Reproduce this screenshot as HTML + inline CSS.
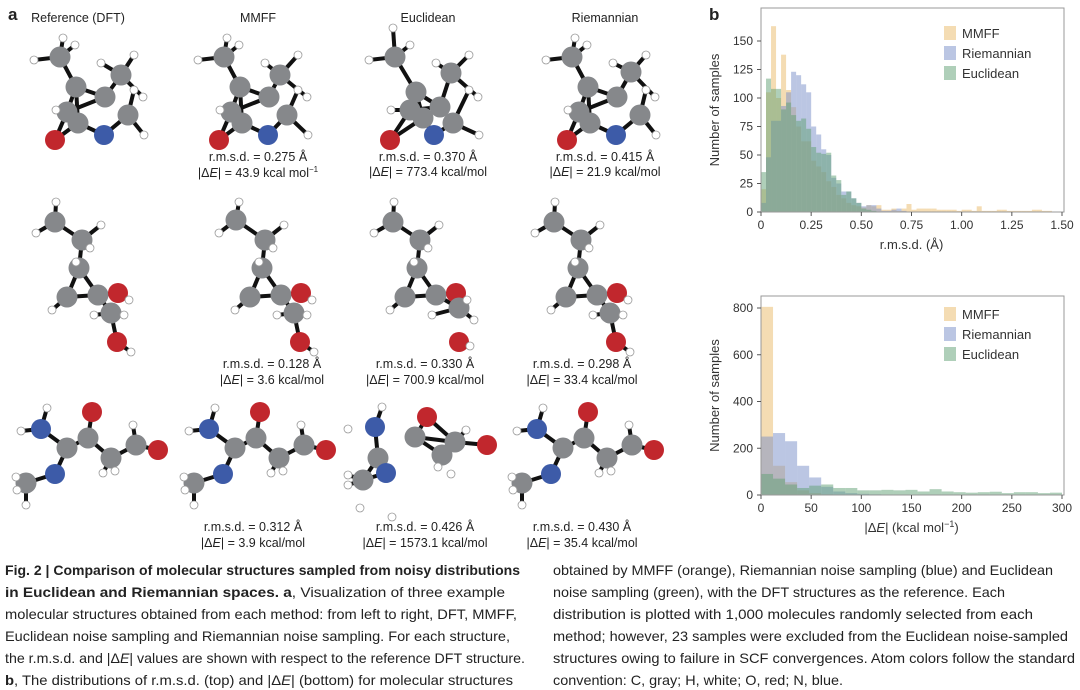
<!DOCTYPE html>
<html><head><meta charset="utf-8"><style>
body{margin:0;background:#fff;}
#root{position:relative;width:1080px;height:690px;overflow:hidden;font-family:"Liberation Sans",sans-serif;color:#222;}
.t{position:absolute;font-size:12.5px;white-space:nowrap;transform:translateX(-50%);}
.b{position:absolute;font-weight:bold;font-size:17px;}
</style></head><body>
<div id="root">
<span class="b" style="left:8px;top:5px">a</span>
<span class="b" style="left:709px;top:5px">b</span>
<span class="t" style="left:78px;top:11px">Reference (DFT)</span>
<span class="t" style="left:258px;top:11px">MMFF</span>
<span class="t" style="left:428px;top:11px">Euclidean</span>
<span class="t" style="left:605px;top:11px">Riemannian</span>

<span class="t" style="left:258px;top:150px">r.m.s.d. = 0.275 Å</span>
<span class="t" style="left:258px;top:165px">|Δ<i>E</i>| = 43.9 kcal mol<sup style="font-size:8px">−1</sup></span>
<span class="t" style="left:428px;top:150px">r.m.s.d. = 0.370 Å</span>
<span class="t" style="left:428px;top:165px">|Δ<i>E</i>| = 773.4 kcal/mol</span>
<span class="t" style="left:605px;top:150px">r.m.s.d. = 0.415 Å</span>
<span class="t" style="left:605px;top:165px">|Δ<i>E</i>| = 21.9 kcal/mol</span>

<span class="t" style="left:272px;top:357px">r.m.s.d. = 0.128 Å</span>
<span class="t" style="left:272px;top:373px">|Δ<i>E</i>| = 3.6 kcal/mol</span>
<span class="t" style="left:425px;top:357px">r.m.s.d. = 0.330 Å</span>
<span class="t" style="left:425px;top:373px">|Δ<i>E</i>| = 700.9 kcal/mol</span>
<span class="t" style="left:582px;top:357px">r.m.s.d. = 0.298 Å</span>
<span class="t" style="left:582px;top:373px">|Δ<i>E</i>| = 33.4 kcal/mol</span>

<span class="t" style="left:253px;top:520px">r.m.s.d. = 0.312 Å</span>
<span class="t" style="left:253px;top:536px">|Δ<i>E</i>| = 3.9 kcal/mol</span>
<span class="t" style="left:425px;top:520px">r.m.s.d. = 0.426 Å</span>
<span class="t" style="left:425px;top:536px">|Δ<i>E</i>| = 1573.1 kcal/mol</span>
<span class="t" style="left:582px;top:520px">r.m.s.d. = 0.430 Å</span>
<span class="t" style="left:582px;top:536px">|Δ<i>E</i>| = 35.4 kcal/mol</span>

<svg id="mol" width="700" height="560" style="position:absolute;left:0;top:0"></svg>
<svg id="hist" width="380" height="550" style="position:absolute;left:700px;top:0"></svg>

<svg width="1080" height="135" style="position:absolute;left:0;top:555px" font-family="Liberation Sans, sans-serif" font-size="14" fill="#222">
<text x="5" y="20" textLength="515" lengthAdjust="spacingAndGlyphs"><tspan font-weight="bold">Fig. 2 | Comparison of molecular structures sampled from noisy distributions</tspan></text>
<text x="5" y="42" textLength="500" lengthAdjust="spacingAndGlyphs"><tspan font-weight="bold">in Euclidean and Riemannian spaces. a</tspan>, Visualization of three example</text>
<text x="5" y="64" textLength="512" lengthAdjust="spacingAndGlyphs">molecular structures obtained from each method: from left to right, DFT, MMFF,</text>
<text x="5" y="86" textLength="505" lengthAdjust="spacingAndGlyphs">Euclidean noise sampling and Riemannian noise sampling. For each structure,</text>
<text x="5" y="108" textLength="520" lengthAdjust="spacingAndGlyphs">the r.m.s.d. and |Δ<tspan font-style="italic">E</tspan>| values are shown with respect to the reference DFT structure.</text>
<text x="5" y="130" textLength="508" lengthAdjust="spacingAndGlyphs"><tspan font-weight="bold">b</tspan>, The distributions of r.m.s.d. (top) and |Δ<tspan font-style="italic">E</tspan>| (bottom) for molecular structures</text>
<text x="553" y="20" textLength="500" lengthAdjust="spacingAndGlyphs">obtained by MMFF (orange), Riemannian noise sampling (blue) and Euclidean</text>
<text x="553" y="42" textLength="452" lengthAdjust="spacingAndGlyphs">noise sampling (green), with the DFT structures as the reference. Each</text>
<text x="553" y="64" textLength="480" lengthAdjust="spacingAndGlyphs">distribution is plotted with 1,000 molecules randomly selected from each</text>
<text x="553" y="86" textLength="515" lengthAdjust="spacingAndGlyphs">method; however, 23 samples were excluded from the Euclidean noise-sampled</text>
<text x="553" y="108" textLength="522" lengthAdjust="spacingAndGlyphs">structures owing to failure in SCF convergences. Atom colors follow the standard</text>
<text x="553" y="130" textLength="290" lengthAdjust="spacingAndGlyphs">convention: C, gray; H, white; O, red; N, blue.</text>
</svg>
</div>
<script>
// ---------- histogram data ----------
const rmsdBinWidth = 0.025;
const rmsdMMFF = [20,105,163,100,138,107,92,75,62,62,45,40,35,27,22,15,12,8,6,5,4,6,5,6,2,2,3,1,3,7,2,3,3,3,3,2,2,2,2,1,2,2,1,5,1,1,1,2,2,1,1,1,1,1,2,2,1,1,0,0];
const rmsdRiem = [8,48,80,80,93,105,123,120,112,105,75,68,55,50,30,25,18,18,12,8,5,6,6,3,1,1,2,3,1,0];
const rmsdEucl = [35,117,108,108,90,96,85,80,82,73,57,52,51,52,32,28,15,18,12,8,3,2,1,0];
const rmsdXTicks = [0,0.25,0.5,0.75,1.0,1.25,1.5];
const rmsdXTickLabels = ["0","0.25","0.50","0.75","1.00","1.25","1.50"];
const rmsdYTicks = [0,25,50,75,100,125,150];

const deBinWidth = 12;
const deMMFF = [805,125,55,20,8,3,2,1];
const deRiem = [250,265,230,125,75,35,15,8,5,3,2,1];
const deEucl = [90,70,45,30,40,45,30,30,20,20,22,20,22,15,25,15,12,10,12,14,8,12,12,8,10];
const deXTicks = [0,50,100,150,200,250,300];
const deYTicks = [0,200,400,600,800];

const seriesNames = ["MMFF","Riemannian","Euclidean"];
const seriesColors = ["rgba(236,196,128,0.6)","rgba(120,142,200,0.5)","rgba(96,160,116,0.5)"];

const NS="http://www.w3.org/2000/svg";
const hist=document.getElementById('hist');
function mk(tag,attrs,parent){const e=document.createElementNS(NS,tag);for(const k in attrs)e.setAttribute(k,attrs[k]);(parent||hist).appendChild(e);return e;}

function drawHist(cfg){
  const sx=v=>cfg.px0+(v-cfg.xmin)/(cfg.xmax-cfg.xmin)*(cfg.px1-cfg.px0);
  const sy=v=>cfg.py0-(v/cfg.ymax)*(cfg.py0-cfg.py1);
  const g=mk('g',{});
  
  
  [cfg.s0,cfg.s1,cfg.s2].forEach((arr,si)=>{
    arr.forEach((v,i)=>{
      if(v<=0)return;
      const r=mk('rect',{x:sx(i*cfg.bw),y:sy(v),width:sx((i+1)*cfg.bw)-sx(i*cfg.bw),height:cfg.py0-sy(v),fill:seriesColors[si]},g);
      
      
    });
  });
  const fr=mk('rect',{x:cfg.px0,y:cfg.ftop,width:cfg.px1+2-cfg.px0,height:cfg.py0-cfg.ftop,fill:'none',stroke:'#999','stroke-width':1});
  
  
  cfg.xt.forEach((v,i)=>{
    mk('line',{x1:sx(v),x2:sx(v),y1:cfg.py0,y2:cfg.py0+4,stroke:'#555'});
    const t=mk('text',{x:sx(v),y:cfg.py0+17,'text-anchor':'middle','font-size':12,fill:'#333','font-family':'Liberation Sans, sans-serif'});
    t.textContent=cfg.xl[i];
    
    
  });
  cfg.yt.forEach(v=>{
    mk('line',{x1:cfg.px0-4,x2:cfg.px0,y1:sy(v),y2:sy(v),stroke:'#555'});
    const t=mk('text',{x:cfg.px0-8,y:sy(v)+4,'text-anchor':'end','font-size':12,fill:'#333','font-family':'Liberation Sans, sans-serif'});
    t.textContent=String(v);
    
    
  });
  const yl=mk('text',{x:0,y:0,transform:`translate(${cfg.ylx},${(cfg.ftop+cfg.py0)/2}) rotate(-90)`,'text-anchor':'middle','font-size':13,fill:'#333','font-family':'Liberation Sans, sans-serif'});
  yl.textContent='Number of samples';
  
  
  const xl=mk('text',{x:(cfg.px0+cfg.px1)/2,y:cfg.py0+37,'text-anchor':'middle','font-size':13,fill:'#333','font-family':'Liberation Sans, sans-serif'});
  xl.innerHTML=cfg.xlabel;
  
  
  seriesNames.forEach((n,i)=>{
    const y=cfg.legY+i*20;
    const sw=mk('rect',{x:244,y:y-7,width:12,height:14,fill:seriesColors[i]});
    
    
    const t=mk('text',{x:262,y:y+5,'font-size':13,fill:'#333','font-family':'Liberation Sans, sans-serif'});
    t.textContent=n;
    
    
  });
}
drawHist({name:'rmsd-histogram',px0:61,px1:362,py0:212,py1:41,ymax:150,xmin:0,xmax:1.5,ftop:8,bw:rmsdBinWidth,s0:rmsdMMFF,s1:rmsdRiem,s2:rmsdEucl,xt:rmsdXTicks,xl:rmsdXTickLabels,yt:rmsdYTicks,ylx:19,legY:33,xlabel:'r.m.s.d. (Å)'});
drawHist({name:'energy-histogram',px0:61,px1:362,py0:495,py1:308,ymax:800,xmin:0,xmax:300,ftop:296,bw:deBinWidth,s0:deMMFF,s1:deRiem,s2:deEucl,xt:deXTicks,xl:deXTicks.map(String),yt:deYTicks,ylx:19,legY:314,xlabel:'|Δ<tspan font-style="italic">E</tspan>| (kcal mol<tspan font-size="9" dy="-5">−1</tspan><tspan dy="5">)</tspan>'});

// ---------- molecules ----------
const mol=document.getElementById('mol');
const COL={C:'#86888b',O:'#c1272d',N:'#3d5ba8',H:'#fff'};
const R={C:10.5,O:10,N:10,H:4};
const row1Atoms=[['C',60,57],['H',34,60],['H',63,38],['H',75,45],['C',76,87],['C',105,97],['C',67,112],['C',78,123],['O',55,140],['N',104,135],['C',128,115],['C',121,75],['H',101,63],['H',134,55],['H',134,90],['H',143,97],['H',144,135],['H',56,110]];
const row1Bonds=[[0,1],[0,2],[0,3],[0,4],[4,5],[4,6],[6,5],[6,7],[7,8],[6,8],[7,9],[9,10],[10,14],[10,16],[5,11],[11,12],[11,13],[11,15],[6,17],[4,7]];
const row2Atoms=[['C',55,222],['C',82,240],['C',79,268],['C',67,297],['C',98,295],['O',118,293],['C',111,313],['O',117,342],['H',56,202],['H',36,233],['H',101,225],['H',90,248],['H',76,262],['H',52,310],['H',94,315],['H',129,300],['H',124,315],['H',131,352]];
const row2Bonds=[[0,1],[0,8],[0,9],[1,10],[1,2],[1,11],[2,12],[2,3],[2,4],[3,4],[3,13],[4,5],[4,6],[6,14],[6,16],[6,7],[7,17],[5,15]];
const row2BondsEuc=row2Bonds.filter(b=>!(b[0]===6&&b[1]===7));
const row3Atoms=[['N',41,429],['H',47,408],['H',21,431],['C',67,448],['C',88,438],['O',92,412],['C',111,458],['H',103,473],['H',115,471],['C',136,445],['H',133,425],['O',158,450],['N',55,474],['C',26,483],['H',16,477],['H',17,490],['H',26,505]];
const row3Bonds=[[0,1],[0,2],[0,3],[3,4],[4,5],[4,6],[6,7],[6,8],[6,9],[9,10],[9,11],[3,12],[12,13],[13,14],[13,15],[13,16]];
const row3EucAtoms=[['N',375,427],['H',382,407],['H',348,429],['C',378,458],['N',386,473],['C',363,480],['H',348,475],['H',348,485],['H',360,508],['O',427,417],['C',415,437],['C',442,455],['C',455,442],['O',487,445],['H',466,430],['H',438,467],['H',451,474],['H',392,517]];
const row3EucBonds=[[0,1],[0,3],[3,4],[4,5],[3,5],[5,6],[5,7],[9,10],[9,12],[10,12],[10,11],[11,12],[12,13],[12,14],[11,15]];

function drawMol(name,atoms,bonds,dx,dy,pert){
  const g=mk('g',{},mol);
  
  
  const P=atoms.map((a,i)=>{const p=(pert&&pert[i])||[0,0];return [a[0],a[1]+dx+p[0],a[2]+dy+p[1]];});
  bonds.forEach(b=>mk('line',{x1:P[b[0]][1],y1:P[b[0]][2],x2:P[b[1]][1],y2:P[b[1]][2],stroke:'#111','stroke-width':4},g));
  const order=P.map((p,i)=>i).sort((a,b)=>(P[a][0]==='H')-(P[b][0]==='H'));
  order.forEach(i=>{const p=P[i];mk('circle',{cx:p[1],cy:p[2],r:R[p[0]],fill:COL[p[0]],stroke:p[0]==='H'?'#999':'none','stroke-width':0.8},g);});
}
drawMol('molecule-r1-dft',row1Atoms,row1Bonds,0,0);
drawMol('molecule-r1-mmff',row1Atoms,row1Bonds,164,0,{11:[-5,0],10:[-5,0]});
drawMol('molecule-r1-euclidean',row1Atoms,row1Bonds,335,0,{4:[5,5],6:[8,-2],7:[10,-5],5:[0,10],11:[-5,-2],10:[-10,8],9:[-5,0],2:[-5,-10]});
drawMol('molecule-r1-riemannian',row1Atoms,row1Bonds,512,0,{11:[-2,-3]});
drawMol('molecule-r2-dft',row2Atoms,row2Bonds,0,0);
drawMol('molecule-r2-mmff',row2Atoms,row2Bonds,183,0,{0:[-2,-2]});
drawMol('molecule-r2-euclidean',row2Atoms,row2BondsEuc,338,0,{6:[10,-5],7:[4,0],17:[1,-6],16:[12,5]});
drawMol('molecule-r2-riemannian',row2Atoms,row2Bonds,499,0);
drawMol('molecule-r3-dft',row3Atoms,row3Bonds,0,0);
drawMol('molecule-r3-mmff',row3Atoms,row3Bonds,168,0);
drawMol('molecule-r3-euclidean',row3EucAtoms,row3EucBonds,0,0);
drawMol('molecule-r3-riemannian',row3Atoms,row3Bonds,496,0);
</script>
</body></html>
